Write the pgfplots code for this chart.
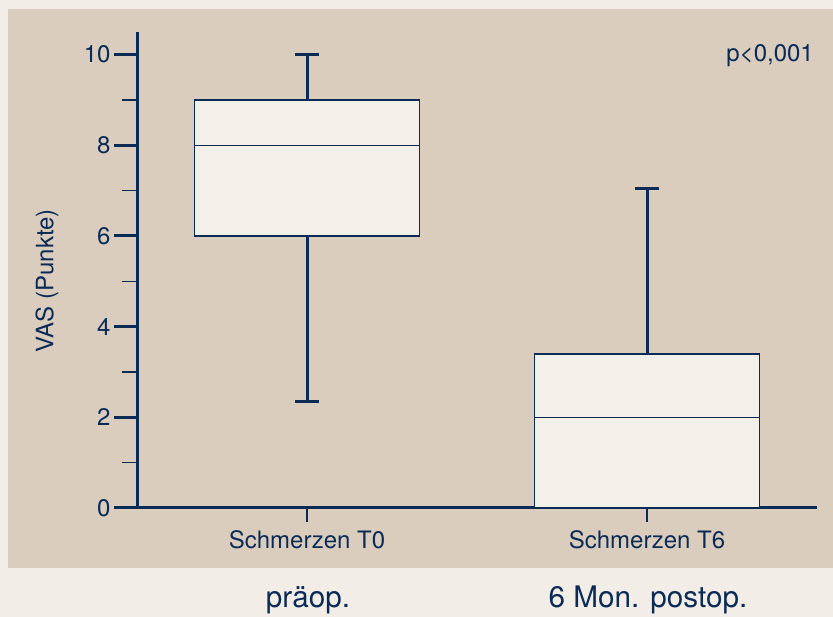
\documentclass[border=0pt]{standalone}
\usepackage{fontspec}
\setmainfont{TeX Gyre Heros}
\usepackage{pgfplots}
\pgfplotsset{compat=1.18}
\usepgfplotslibrary{statistics}
\definecolor{navy}{HTML}{0B2B57}
\definecolor{tanbg}{HTML}{DACDBE}
\definecolor{cream}{HTML}{F2EDE7}
\definecolor{boxfill}{HTML}{F3EFE9}
\begin{document}
\begin{tikzpicture}[x=1pt,y=1pt]
\path[use as bounding box] (0,0) rectangle (833,617);
\fill[cream] (0,0) rectangle (833,617);
\fill[tanbg] (8,49) rectangle (833,608);
\begin{axis}[
  at={(137pt,109pt)}, anchor=south west,
  scale only axis, width=680pt, height=476pt,
  xmin=0.5, xmax=2.5, ymin=0, ymax=10.5,
  axis lines=left,
  axis line style={-, line width=3pt, draw=navy},
  clip=false,
  xtick={1,2}, xticklabels={Schmerzen T0, Schmerzen T6},
  xtick style={draw=none},
  ytick={0,2,4,6,8,10}, minor ytick={1,3,5,7,9},
  tick align=outside, major tick length=23pt, minor tick length=15pt,
  every major y tick/.append style={line width=3pt, draw=navy},
  every minor y tick/.append style={line width=1.5pt, draw=navy},
  tick label style={font=\fontsize{24}{28}\selectfont, text=navy},
  /pgf/number format/assume math mode=true,
  x tick label style={yshift=4pt},
  boxplot/draw direction=y,
  boxplot/every whisker/.style={line width=3pt},
  boxplot/every median/.style={line width=1.5pt},
]
\addplot[boxplot prepared={draw position=1, lower whisker=2.35, lower quartile=6, median=8, upper quartile=9, upper whisker=10, box extend=0.662, whisker extend=0.068}, draw=navy, fill=boxfill, line width=1.5pt] coordinates {};
\addplot[boxplot prepared={draw position=2, lower whisker=0, lower quartile=0, median=2, upper quartile=3.4, upper whisker=7.05, box extend=0.662, whisker extend=0.068}, draw=navy, fill=boxfill, line width=1.5pt] coordinates {};
\draw[navy, line width=1.5pt] (axis cs:1,0) -- (axis cs:1,-0.31);
\draw[navy, line width=1.5pt] (axis cs:2,0) -- (axis cs:2,-0.31);
\end{axis}
\node[anchor=base east, inner sep=0pt, font=\fontsize{24}{28}\selectfont, text=navy] at (814,555) {p<0,001};
\node[rotate=90, font=\fontsize{24}{28}\selectfont, text=navy] at (47,336) {VAS (Punkte)};
\node[anchor=base, font=\fontsize{29.7}{34}\selectfont, text=navy] at (308,9) {präop.};
\node[anchor=base, font=\fontsize{29.7}{34}\selectfont, text=navy] at (648,9) {6 Mon. postop.};
\end{tikzpicture}
\end{document}
